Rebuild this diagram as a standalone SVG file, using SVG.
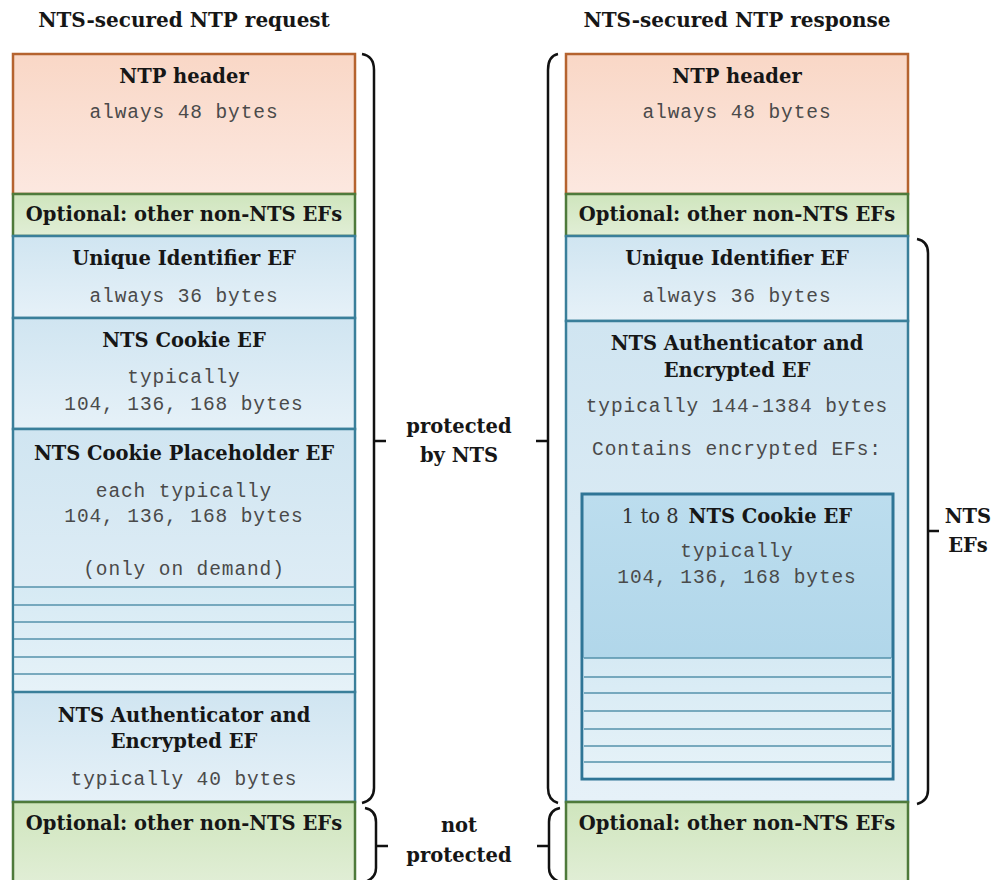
<svg xmlns="http://www.w3.org/2000/svg" width="994" height="880" viewBox="0 0 994 880">
  <defs>
    <linearGradient id="gHdr" x1="0" y1="0" x2="0" y2="1">
      <stop offset="0" stop-color="#f9d7c6"/>
      <stop offset="1" stop-color="#fce8e0"/>
    </linearGradient>
    <linearGradient id="gOpt" x1="0" y1="0" x2="0" y2="1">
      <stop offset="0" stop-color="#cfe5bd"/>
      <stop offset="1" stop-color="#e1eed6"/>
    </linearGradient>
    <linearGradient id="gEf" x1="0" y1="0" x2="0" y2="1">
      <stop offset="0" stop-color="#d0e5f1"/>
      <stop offset="1" stop-color="#e6f1f8"/>
    </linearGradient>
    <linearGradient id="gInner" x1="0" y1="0" x2="0" y2="1">
      <stop offset="0" stop-color="#bcddee"/>
      <stop offset="1" stop-color="#a9d2e7"/>
    </linearGradient>
    <linearGradient id="gStripe" x1="0" y1="0" x2="0" y2="1">
      <stop offset="0" stop-color="#d6eaf4"/>
      <stop offset="1" stop-color="#e6f2f8"/>
    </linearGradient>
  </defs>
  <style>
    .hdr { fill: url(#gHdr); stroke: #b5632f; stroke-width: 2.5; }
    .opt { fill: url(#gOpt); stroke: #4e7a3b; stroke-width: 2.5; }
    .ef { fill: url(#gEf); stroke: #3a7f9a; stroke-width: 2.5; }
    .inner { fill: url(#gInner); stroke: #2f7596; stroke-width: 3; }
    .zone { fill: url(#gStripe); }
    .stripe { stroke: #5592ab; stroke-width: 1.3; }
    .brace { fill: none; stroke: #111; stroke-width: 2.5; }
    .t { font-family: "DejaVu Serif", "Liberation Serif", serif; font-weight: bold; font-size: 19.5px; fill: #161616; text-anchor: middle; }
    .head { font-size: 20px; }
    .m { font-family: "Liberation Mono", "DejaVu Sans Mono", monospace; font-size: 19.5px; letter-spacing: 0.9px; fill: #4a4a4a; text-anchor: middle; }
  </style>

  <!-- column titles -->
  <text class="t head" x="184" y="27">NTS-secured NTP request</text>
  <text class="t head" x="737" y="27">NTS-secured NTP response</text>

  <!-- request packet -->
  <g id="req-header">
    <rect class="hdr" x="13" y="54" width="342" height="140"/>
    <text class="t" x="184" y="83">NTP header</text>
    <text class="m" x="184" y="118">always 48 bytes</text>
  </g>
  <g id="req-opt-top">
    <rect class="opt" x="13" y="194" width="342" height="42"/>
    <text class="t" x="184" y="221">Optional: other non-NTS EFs</text>
  </g>
  <g id="req-uid">
    <rect class="ef" x="13" y="236" width="342" height="82"/>
    <text class="t" x="184" y="265">Unique Identifier EF</text>
    <text class="m" x="184" y="302">always 36 bytes</text>
  </g>
  <g id="req-cookie">
    <rect class="ef" x="13" y="318" width="342" height="111"/>
    <text class="t" x="184" y="347">NTS Cookie EF</text>
    <text class="m" x="184" y="383">typically</text>
    <text class="m" x="184" y="410">104, 136, 168 bytes</text>
  </g>
  <g id="req-placeholder">
    <rect class="ef" x="13" y="429" width="342" height="263"/>
    <rect class="zone" x="14.5" y="587" width="339" height="104"/>
    <line class="stripe" x1="14" y1="587" x2="354" y2="587"/>
    <line class="stripe" x1="14" y1="605" x2="354" y2="605"/>
    <line class="stripe" x1="14" y1="622" x2="354" y2="622"/>
    <line class="stripe" x1="14" y1="639" x2="354" y2="639"/>
    <line class="stripe" x1="14" y1="657" x2="354" y2="657"/>
    <line class="stripe" x1="14" y1="674" x2="354" y2="674"/>
    <text class="t" x="184" y="460">NTS Cookie Placeholder EF</text>
    <text class="m" x="184" y="497">each typically</text>
    <text class="m" x="184" y="522">104, 136, 168 bytes</text>
    <text class="m" x="184" y="575">(only on demand)</text>
  </g>
  <g id="req-auth">
    <rect class="ef" x="13" y="692" width="342" height="110"/>
    <text class="t" x="184" y="722">NTS Authenticator and</text>
    <text class="t" x="184" y="748">Encrypted EF</text>
    <text class="m" x="184" y="785">typically 40 bytes</text>
  </g>
  <g id="req-opt-bottom">
    <rect class="opt" x="13" y="802" width="342" height="82"/>
    <text class="t" x="184" y="830">Optional: other non-NTS EFs</text>
  </g>

  <!-- response packet -->
  <g id="resp-header">
    <rect class="hdr" x="566" y="54" width="342" height="140"/>
    <text class="t" x="737" y="83">NTP header</text>
    <text class="m" x="737" y="118">always 48 bytes</text>
  </g>
  <g id="resp-opt-top">
    <rect class="opt" x="566" y="194" width="342" height="42"/>
    <text class="t" x="737" y="221">Optional: other non-NTS EFs</text>
  </g>
  <g id="resp-uid">
    <rect class="ef" x="566" y="236" width="342" height="85"/>
    <text class="t" x="737" y="265">Unique Identifier EF</text>
    <text class="m" x="737" y="302">always 36 bytes</text>
  </g>
  <g id="resp-auth">
    <rect class="ef" x="566" y="321" width="342" height="481"/>
    <text class="t" x="737" y="350">NTS Authenticator and</text>
    <text class="t" x="737" y="377">Encrypted EF</text>
    <text class="m" x="737" y="412">typically 144-1384 bytes</text>
    <text class="m" x="737" y="455">Contains encrypted EFs:</text>
  </g>
  <g id="resp-cookies">
    <rect class="inner" x="582" y="494" width="311" height="285"/>
    <rect class="zone" x="583.5" y="658" width="308" height="119.5"/>
    <line class="stripe" x1="584" y1="658" x2="891" y2="658"/>
    <line class="stripe" x1="584" y1="677" x2="891" y2="677"/>
    <line class="stripe" x1="584" y1="693" x2="891" y2="693"/>
    <line class="stripe" x1="584" y1="711" x2="891" y2="711"/>
    <line class="stripe" x1="584" y1="729" x2="891" y2="729"/>
    <line class="stripe" x1="584" y1="746" x2="891" y2="746"/>
    <line class="stripe" x1="584" y1="762" x2="891" y2="762"/>
    <text class="t" x="737" y="523"><tspan font-weight="normal" fill="#333">1 to 8</tspan><tspan dx="10">NTS Cookie EF</tspan></text>
    <text class="m" x="737" y="557">typically</text>
    <text class="m" x="737" y="583">104, 136, 168 bytes</text>
  </g>
  <g id="resp-opt-bottom">
    <rect class="opt" x="566" y="802" width="342" height="82"/>
    <text class="t" x="737" y="830">Optional: other non-NTS EFs</text>
  </g>

  <!-- braces -->
  <g id="braces">
    <path class="brace" d="M362,54 Q374,56 374,70 V788 Q374,800 362,803 M374,441 H386"/>
    <path class="brace" d="M558,54 Q548,56 548,70 V788 Q548,800 558,803 M548,441 H536"/>
    <path class="brace" d="M365,808 Q376,810 376,822 V868 Q376,878 365,882 M376,846 H388"/>
    <path class="brace" d="M560,808 Q549,810 549,822 V868 Q549,878 560,882 M549,846 H537"/>
    <path class="brace" d="M917,239 Q928,241 928,253 V790 Q928,801 917,804 M928,531 H939"/>
  </g>

  <!-- brace labels -->
  <g id="label-protected">
    <text class="t" x="459" y="433">protected</text>
    <text class="t" x="459" y="462">by NTS</text>
  </g>
  <g id="label-not-protected">
    <text class="t" x="459" y="832">not</text>
    <text class="t" x="459" y="862">protected</text>
  </g>
  <g id="label-nts-efs">
    <text class="t" x="968" y="523">NTS</text>
    <text class="t" x="968" y="552">EFs</text>
  </g>
</svg>
